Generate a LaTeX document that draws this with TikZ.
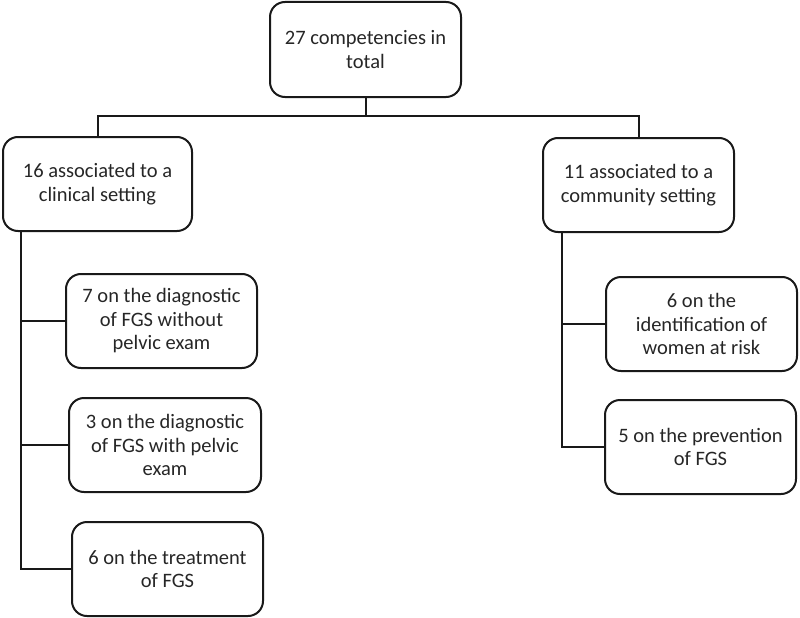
\documentclass[tikz,border=0pt]{standalone}
\usepackage{fontspec}
\setmainfont{Carlito}
\begin{document}
\begin{tikzpicture}[x=1pt,y=-1pt,
  box/.style={draw=black!90, line width=2pt, rounded corners=15pt, align=center,
    inner sep=0pt, font=\fontsize{20.5}{23.5}\selectfont, text=black!85},
  conn/.style={draw=black!90, line width=2pt}]
\useasboundingbox (0,0) rectangle (800,618);
\node[box, minimum width=191pt, minimum height=95pt] (top) at (365.5,49.5) {27 competencies in\\total};
\node[box, minimum width=189pt, minimum height=94pt] (L) at (97.5,184) {16 associated to a\\clinical setting};
\node[box, minimum width=191pt, minimum height=94pt] (R) at (638.5,185) {11 associated to a\\community setting};
\node[box, minimum width=191pt, minimum height=94pt] (c1) at (161.5,321) {7 on the diagnostic\\of FGS without\\pelvic exam};
\node[box, minimum width=192pt, minimum height=94pt] (c2) at (165,445) {3 on the diagnostic\\of FGS with pelvic\\exam};
\node[box, minimum width=191pt, minimum height=94pt] (c3) at (167.5,569) {6 on the treatment\\of FGS};
\node[box, minimum width=191pt, minimum height=94pt] (d1) at (701.5,324) {6 on the\\identification of\\women at risk};
\node[box, minimum width=191pt, minimum height=94pt] (d2) at (700.5,447) {5 on the prevention\\of FGS};
\coordinate (hb) at (365.5,116);
\coordinate (lv) at (21,0);
\coordinate (rv) at (562,0);
\draw[conn] (top.south) -- (hb) -| (L.north);
\draw[conn] (hb) -| (R.north);
\draw[conn] (L.south -| lv) |- (c3.west);
\draw[conn] (c1.west) -- (c1.west -| lv);
\draw[conn] (c2.west) -- (c2.west -| lv);
\draw[conn] (R.south -| rv) |- (d2.west);
\draw[conn] (d1.west) -- (d1.west -| rv);
\end{tikzpicture}
\end{document}
